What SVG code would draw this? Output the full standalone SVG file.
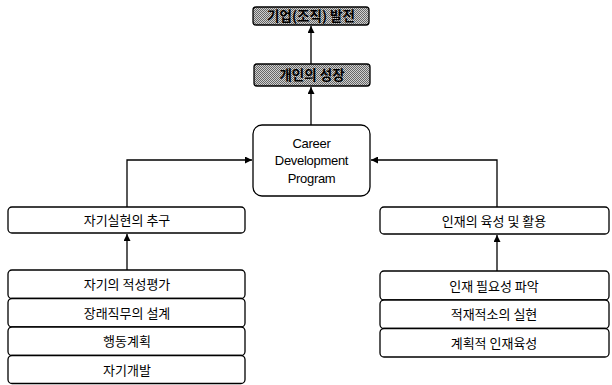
<svg xmlns="http://www.w3.org/2000/svg" width="612" height="385" viewBox="0 0 612 385">
<style>
.box{fill:#fff;stroke:#000;stroke-width:1.3}
.shade{fill:url(#dots);stroke:#000;stroke-width:1.3}
.kt{font-family:"Noto Sans CJK KR","Noto Sans",sans-serif;font-size:13px;fill:#000;text-anchor:middle}
.ht{font-family:"Noto Sans CJK KR","Noto Sans",sans-serif;font-size:13.5px;fill:#000;text-anchor:middle;font-weight:bold}
.et{font-family:"Liberation Sans",Arial,sans-serif;font-size:13px;fill:#000;text-anchor:middle;letter-spacing:-0.3px}
.ln{fill:none;stroke:#000;stroke-width:1.3}
</style>
<defs>
<pattern id="dots" width="2" height="2" patternUnits="userSpaceOnUse">
<rect width="2" height="2" fill="#d0d0d0"/>
<rect width="1" height="1" fill="#666"/>
<rect x="1" y="1" width="1" height="1" fill="#666"/>
</pattern>
<marker id="ah" viewBox="0 0 10 10" refX="10" refY="5" markerWidth="7" markerHeight="7" markerUnits="userSpaceOnUse" orient="auto">
<path d="M0,0 L10,5 L0,10 z" fill="#000"/>
</marker>
</defs>
<g id="connectors">
<line class="ln" x1="311" y1="64" x2="311" y2="26" marker-end="url(#ah)"/>
<line class="ln" x1="311" y1="125" x2="311" y2="87" marker-end="url(#ah)"/>
<polyline class="ln" points="127,207 127,160 252,160" marker-end="url(#ah)"/>
<polyline class="ln" points="497,207 497,160 371,160" marker-end="url(#ah)"/>
<line class="ln" x1="127" y1="270" x2="127" y2="234" marker-end="url(#ah)"/>
<line class="ln" x1="497" y1="271" x2="497" y2="235" marker-end="url(#ah)"/>
</g>
<g id="org-dev">
<rect class="shade" x="253" y="7" width="116" height="18" rx="3"/>
<text class="ht" x="311" y="21">기업(조직) 발전</text>
</g>
<g id="personal-growth">
<rect class="shade" x="254" y="64" width="116" height="22" rx="3"/>
<text class="ht" x="312" y="80">개인의 성장</text>
</g>
<g id="cdp">
<rect class="box" x="253" y="125" width="117" height="71" rx="9"/>
<text class="et" x="311.5" y="148">Career</text>
<text class="et" x="311.5" y="165">Development</text>
<text class="et" x="311.5" y="183">Program</text>
</g>
<g id="self-realization">
<rect class="box" x="8" y="207" width="237" height="26" rx="4"/>
<text class="kt" x="127" y="225">자기실현의 추구</text>
</g>
<g id="talent">
<rect class="box" x="380" y="207" width="229" height="27" rx="4"/>
<text class="kt" x="494" y="225.5">인재의 육성 및 활용</text>
</g>
<g id="left-stack">
<rect class="box" x="8" y="270" width="237" height="28.5" rx="4"/>
<text class="kt" x="127" y="289">자기의 적성평가</text>
<rect class="box" x="8" y="298.5" width="237" height="28.5" rx="4"/>
<text class="kt" x="127" y="317.5">장래직무의 설계</text>
<rect class="box" x="8" y="327" width="237" height="28.5" rx="4"/>
<text class="kt" x="127" y="346">행동계획</text>
<rect class="box" x="8" y="355.5" width="237" height="28" rx="4"/>
<text class="kt" x="127" y="374.5">자기개발</text>
</g>
<g id="right-stack">
<rect class="box" x="380" y="271" width="229" height="29" rx="4"/>
<text class="kt" x="494" y="290.5">인재 필요성 파악</text>
<rect class="box" x="380" y="300" width="229" height="28.5" rx="4"/>
<text class="kt" x="494" y="319">적재적소의 실현</text>
<rect class="box" x="380" y="328.5" width="229" height="28.5" rx="4"/>
<text class="kt" x="494" y="347.5">계획적 인재육성</text>
</g>
</svg>
